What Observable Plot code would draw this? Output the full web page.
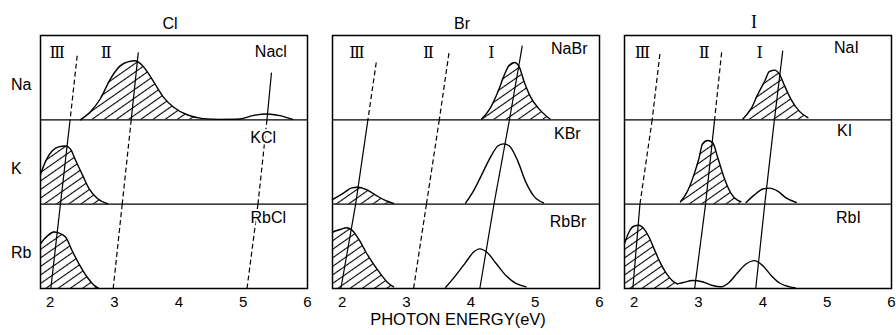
<!DOCTYPE html>
<html><head><meta charset="utf-8">
<script src="https://cdn.jsdelivr.net/npm/d3@7"></script>
<script src="https://cdn.jsdelivr.net/npm/@observablehq/plot@0.6"></script>
<style>body{margin:0;background:#fff;} svg{display:block}</style>
</head><body><div id="chart"></div>
<script>
// ---------- data ----------
const anions = ["Cl", "Br", "I"];
const cations = ["Na", "K", "Rb"];
const xTicks = [2, 3, 4, 5, 6];
const xLabel = "PHOTON ENERGY(eV)";

// traced band profiles: [photon energy (eV), relative intensity within row]
const NaCl_hatched = [[2.47,0],[2.63,0.1],[2.78,0.25],[2.94,0.49],[3.09,0.64],[3.22,0.69],[3.32,0.70],[3.45,0.63],[3.61,0.45],[3.76,0.27],[3.92,0.15],[4.13,0.06],[4.33,0.02],[4.6,0.005]];
const NaCl_open = [[4.6,0.005],[4.95,0.01],[5.15,0.05],[5.37,0.07],[5.57,0.05],[5.77,0.005]];
const KCl_hatched = [[1.85,0.35],[1.93,0.51],[2.03,0.63],[2.13,0.68],[2.24,0.69],[2.32,0.65],[2.39,0.53],[2.5,0.35],[2.6,0.19],[2.73,0.07],[2.89,0.005]];
const RbCl_hatched = [[1.85,0.53],[1.95,0.62],[2.06,0.67],[2.13,0.66],[2.24,0.61],[2.34,0.45],[2.45,0.29],[2.58,0.13],[2.68,0.04],[2.76,0]];

const NaBr_hatched = [[4.17,0.01],[4.30,0.135],[4.42,0.33],[4.52,0.53],[4.60,0.65],[4.68,0.68],[4.75,0.63],[4.83,0.45],[4.93,0.27],[5.06,0.13],[5.18,0.04],[5.23,0.01]];
const KBr_hatched = [[1.85,0.055],[2.02,0.13],[2.14,0.19],[2.24,0.20],[2.37,0.175],[2.52,0.107],[2.67,0.044],[2.80,0.008]];
const KBr_open = [[3.92,0.015],[4.04,0.155],[4.17,0.35],[4.30,0.55],[4.42,0.69],[4.51,0.715],[4.60,0.69],[4.73,0.51],[4.85,0.27],[4.98,0.095],[5.13,0.015]];
const RbBr_hatched = [[1.85,0.67],[1.97,0.70],[2.07,0.72],[2.17,0.68],[2.27,0.57],[2.37,0.43],[2.47,0.31],[2.60,0.17],[2.70,0.075],[2.80,0.02]];
const RbBr_open = [[3.61,0.015],[3.76,0.15],[3.92,0.31],[4.04,0.43],[4.14,0.47],[4.25,0.43],[4.40,0.29],[4.55,0.15],[4.70,0.06],[4.86,0.02]];

const NaI_hatched = [[3.69,0.01],[3.82,0.135],[3.92,0.30],[4.03,0.46],[4.10,0.57],[4.18,0.59],[4.26,0.54],[4.34,0.40],[4.44,0.24],[4.57,0.10],[4.70,0.025]];
const KI_hatched = [[2.72,0.03],[2.83,0.155],[2.93,0.35],[3.01,0.55],[3.06,0.71],[3.14,0.755],[3.22,0.73],[3.30,0.55],[3.40,0.31],[3.50,0.135],[3.61,0.045],[3.66,0.03]];
const KI_open = [[3.74,0.02],[3.87,0.11],[4.0,0.18],[4.10,0.19],[4.23,0.155],[4.36,0.075],[4.52,0.02]];
const RbI_hatched = [[1.85,0.53],[1.92,0.67],[2.0,0.74],[2.07,0.75],[2.15,0.71],[2.23,0.61],[2.31,0.47],[2.39,0.33],[2.49,0.19],[2.59,0.095],[2.67,0.055]];
const RbI_open = [[2.67,0.055],[2.75,0.068],[2.91,0.095],[3.06,0.08],[3.22,0.035],[3.35,0.02],[3.48,0.075],[3.61,0.19],[3.74,0.29],[3.87,0.33],[4.0,0.27],[4.13,0.155],[4.26,0.065],[4.42,0.02],[4.50,0.01]];

// band list: [anion, cation, hatched, profile]
const bands = [
  ["Cl","Na",true,NaCl_hatched],["Cl","Na",false,NaCl_open],
  ["Cl","K",true,KCl_hatched],["Cl","Rb",true,RbCl_hatched],
  ["Br","Na",true,NaBr_hatched],["Br","K",true,KBr_hatched],["Br","K",false,KBr_open],
  ["Br","Rb",true,RbBr_hatched],["Br","Rb",false,RbBr_open],
  ["I","Na",true,NaI_hatched],["I","K",true,KI_hatched],["I","K",false,KI_open],
  ["I","Rb",true,RbI_hatched],["I","Rb",false,RbI_open]
];

// band-series guide lines: energy at [label top, Na/K, K/Rb, bottom] with row dash flags (Na,K,Rb)
const Cl_III = [[2.42,2.76],[2.31,2],[2.16,1],[2.01,0]], Cl_III_dash = [1,0,0];
const Cl_II  = [[3.37,2.80],[3.26,2],[3.12,1],[2.98,0]], Cl_II_dash  = [0,1,1];
const Cl_I   = [[5.44,2.56],[5.37,2],[5.23,1],[5.06,0]], Cl_I_dash   = [0,1,1];
const Br_III = [[2.53,2.68],[2.40,2],[2.21,1],[1.98,0]], Br_III_dash = [1,0,0];
const Br_II  = [[3.66,2.79],[3.51,2],[3.31,1],[3.11,0]], Br_II_dash  = [1,1,1];
const Br_I   = [[4.80,2.88],[4.60,2],[4.36,1],[4.14,0]], Br_I_dash   = [0,0,0];
const I_III  = [[2.40,2.78],[2.28,2],[2.09,1],[1.98,0]], I_III_dash  = [1,1,0];
const I_II   = [[3.36,2.80],[3.25,2],[3.11,1],[2.94,0]], I_II_dash   = [1,0,0];
const I_I    = [[4.31,2.82],[4.18,2],[4.03,1],[3.89,0]], I_I_dash    = [0,0,0];
const guideLines = [
  ["Cl",Cl_III,Cl_III_dash],["Cl",Cl_II,Cl_II_dash],["Cl",Cl_I,Cl_I_dash],
  ["Br",Br_III,Br_III_dash],["Br",Br_II,Br_II_dash],["Br",Br_I,Br_I_dash],
  ["I",I_III,I_III_dash],["I",I_II,I_II_dash],["I",I_I,I_I_dash]
];

// series labels: [anion, label, energy, y]
const seriesLabels = [
  ["Cl","Ⅲ",2.11,2.79],["Cl","Ⅱ",2.87,2.79],
  ["Br","Ⅲ",2.23,2.79],["Br","Ⅱ",3.34,2.79],["Br","Ⅰ",4.32,2.79],
  ["I","Ⅲ",2.13,2.79],["I","Ⅱ",3.09,2.79],["I","Ⅰ",3.95,2.79]
];
// compound labels: [anion, label, energy, y]
const compoundLabels = [
  ["Cl","Nacl",5.43,2.80],["Cl","KCl",5.31,1.79],["Cl","RbCl",5.39,0.84],
  ["Br","NaBr",5.53,2.84],["Br","KBr",5.50,1.83],["Br","RbBr",5.51,0.79],
  ["I","NaI",5.30,2.85],["I","KI",5.27,1.87],["I","RbI",5.33,0.84]
];

// ---------- build tables ----------
const rowBase = c => 2 - cations.indexOf(c);
const bandRows = [];
bands.forEach(([an, cat, hatched, prof], i) => {
  prof.forEach(([x, v]) => bandRows.push({id: i, anion: an, hatched, x, base: rowBase(cat), y: rowBase(cat) + v}));
});
const segs = [];
guideLines.forEach(([an, pts, dash]) => {
  for (let k = 0; k < pts.length - 1; k++) {
    segs.push({anion: an, x1: pts[k][0], y1: pts[k][1], x2: pts[k+1][0], y2: pts[k+1][1], dashed: !!dash[k]});
  }
});
const sLab = seriesLabels.map(([anion, text, x, y]) => ({anion, text, x, y}));
const cLab = compoundLabels.map(([anion, text, x, y]) => ({anion, text, x, y}));

const SANS = "Liberation Sans, Arial, Helvetica, sans-serif";
const SERIF = "DejaVu Serif, Liberation Serif, serif";

const chart = Plot.plot({
  width: 896, height: 335,
  marginTop: 35, marginBottom: 47, marginLeft: 40, marginRight: 4,
  style: {fontFamily: SANS, fontSize: "16px", background: "white", color: "black", overflow: "visible"},
  fx: {domain: anions, axis: null, paddingInner: 0.085, paddingOuter: 0},
  x: {domain: [1.85, 6]},
  y: {domain: [0, 3], axis: null},
  marks: [
    Plot.area(bandRows.filter(d => d.hatched), {fx: "anion", x1: "x", y1: "base", y2: "y", z: "id", fill: "url(#hatch)", curve: "monotone-x"}),
    Plot.line(bandRows, {fx: "anion", x: "x", y: "y", z: "id", stroke: "black", strokeWidth: 1.4, curve: "monotone-x"}),
    Plot.ruleY([1, 2], {stroke: "black", strokeWidth: 1.3}),
    Plot.frame({stroke: "black", strokeWidth: 1.5}),
    Plot.link(segs.filter(d => !d.dashed), {fx: "anion", x1: "x1", y1: "y1", x2: "x2", y2: "y2", stroke: "black", strokeWidth: 1.2}),
    Plot.link(segs.filter(d => d.dashed), {fx: "anion", x1: "x1", y1: "y1", x2: "x2", y2: "y2", stroke: "black", strokeWidth: 1.2, strokeDasharray: "5,3"}),
    Plot.text(sLab, {fx: "anion", x: "x", y: "y", text: "text", fontFamily: SERIF, fontSize: 16, lineAnchor: "middle"}),
    Plot.text(cLab, {fx: "anion", x: "x", y: "y", text: "text", fontSize: 16, lineAnchor: "middle", stroke: "white", strokeWidth: 4, fill: "black"}),
    Plot.text(cations, {fx: cations.map(() => "Cl"), y: (d, i) => rowBase(d) + 0.42, text: d => d, frameAnchor: "left", dx: -29.5, textAnchor: "start", fontSize: 16, lineAnchor: "middle"}),
    Plot.text(anions.filter(a => a !== "I"), {fx: d => d, text: d => d, frameAnchor: "top", dy: -11.7, dx: -4, fontSize: 16, lineAnchor: "middle"}),
    Plot.text(anions.filter(a => a === "I"), {fx: d => d, text: d => d, frameAnchor: "top", dy: -13, dx: -4, fontSize: 18, fontFamily: "Liberation Serif, serif", lineAnchor: "middle"}),
    Plot.axisX({ticks: xTicks, tickFormat: d => String(d), tickSize: 0, tickPadding: 8, label: null, fontSize: 15}),
    Plot.text([xLabel], {fx: ["Br"], text: d => d, frameAnchor: "bottom", dy: 31, dx: -8, fontSize: 16.5, lineAnchor: "middle"})
  ]
});

const svg = chart.tagName.toLowerCase() === "svg" ? chart : chart.querySelector("svg");
const defs = d3.select(svg).insert("defs", ":first-child");
defs.append("pattern").attr("id", "hatch").attr("patternUnits", "userSpaceOnUse")
  .attr("width", 7).attr("height", 7).attr("patternTransform", "rotate(-35)")
  .append("line").attr("x1", -1).attr("y1", 3.5).attr("x2", 8).attr("y2", 3.5)
  .attr("stroke", "black").attr("stroke-width", 1.1);
document.getElementById("chart").appendChild(chart);
</script>
</body></html>
